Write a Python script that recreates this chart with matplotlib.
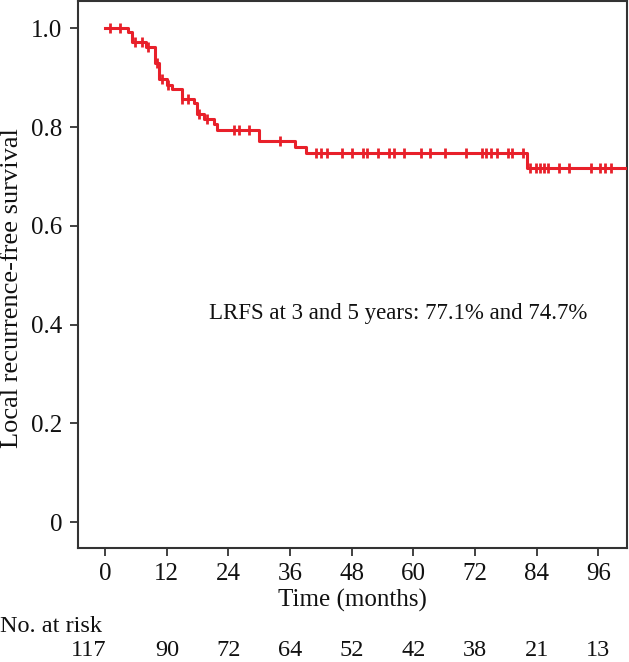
import numpy as np
import matplotlib
matplotlib.use("Agg")
import matplotlib.pyplot as plt
import matplotlib.transforms as mtransforms

# ---- data ----
event_times = [4.5, 5.2, 8.0, 9.7, 10.5, 12.0, 13.0, 14.9, 17.2, 17.9, 19.2,
               21.1, 21.8, 29.9, 37.0, 39.0, 82.2]
survival = [0.992, 0.972, 0.962, 0.929, 0.898, 0.885, 0.876, 0.857, 0.848,
            0.827, 0.817, 0.807, 0.794, 0.771, 0.759, 0.747, 0.717]
censor_times = [1, 2.9, 5.8, 7.1, 8.4, 10.1, 11, 12.3, 14.9, 16.2, 18.2, 19.8,
                25, 26, 27.9, 34.1, 41.1, 42.1, 43.1, 46.1, 48.1, 50.2, 51,
                53.1, 55.2, 56.2, 58.1, 61.4, 63.2, 66.2, 70.3, 73.3, 74.2,
                75.1, 76.2, 78.4, 79.3, 81.4, 82.8, 83.8, 84.6, 85.4, 86.2,
                88.3, 90.4, 94.5, 96.4, 97.4, 98.4]
risk_times = [0, 12, 24, 36, 48, 60, 72, 84, 96]
at_risk = [117, 90, 72, 64, 52, 42, 38, 21, 13]
y_ticks = [0, 0.2, 0.4, 0.6, 0.8, 1.0]
y_ticklabels = ["0", "0.2", "0.4", "0.6", "0.8", "1.0"]
annotation = "LRFS at 3 and 5 years: 77.1% and 74.7%"

x_min, x_max = -5.3, 101.6
y_min, y_max = -0.052, 1.055

plt.rcParams['font.family'] = ['Liberation Serif', 'DejaVu Serif']
color = '#E8202A'
txt = '#111111'

W, H = 629, 662
fig = plt.figure(figsize=(W / 100, H / 100), dpi=100)
ax_l, ax_r, ax_t, ax_b = 78, 627, 1, 548
ax = fig.add_axes([ax_l / W, 1 - ax_b / H, (ax_r - ax_l) / W, (ax_b - ax_t) / H])

t_all = np.array([0.0] + event_times + [x_max])
s_all = np.array([1.0] + survival + [survival[-1]])
ax.step(t_all, s_all, where='post', color=color, lw=2.2, zorder=3)

ct = np.array(censor_times)
idx = np.searchsorted(t_all, ct, side='right') - 1
cs = s_all[idx]
ax.plot(ct, cs, linestyle='none', marker='|', markersize=6.5,
        markeredgewidth=2.0, color=color, zorder=4)

ax.set_xlim(x_min, x_max)
ax.set_ylim(y_min, y_max)
ax.set_xticks(risk_times)
ax.set_xticklabels([str(t) for t in risk_times])
ax.set_yticks(y_ticks)
ax.set_yticklabels(y_ticklabels)
ax.tick_params(axis='both', direction='out', length=6, width=1.3,
               color='#333333', labelcolor=txt)
ax.tick_params(axis='x', labelsize=18, pad=4.5)
ax.tick_params(axis='y', labelsize=18, pad=5.5)
for sp in ax.spines.values():
    sp.set_linewidth(1.5)
    sp.set_color('#333333')

ax_w = ax_r - ax_l
ax_h = ax_b - ax_t

xl = ax.set_xlabel("Time (months)", fontsize=18, color=txt)
ax.xaxis.set_label_coords(0.5, (ax_b - 600) / ax_h)
xl.set_va('center')

yl = ax.set_ylabel("Local recurrence-free survival", fontsize=19, color=txt)
ax.yaxis.set_label_coords((12 - ax_l) / ax_w, (ax_b - 288) / ax_h)
yl.set_va('center')
yl.set_ha('center')

ax.text((398 - ax_l) / ax_w, (ax_b - 314) / ax_h, annotation,
        transform=ax.transAxes, fontsize=16.5, ha='center', va='center',
        color=txt)

# at-risk table
fig.text(0 / W, 1 - 627 / H, "No. at risk", fontsize=17.5, ha='left',
         va='center', color=txt)
blend = mtransforms.blended_transform_factory(ax.transData, fig.transFigure)
for i, (t, n) in enumerate(zip(risk_times, at_risk)):
    tr = blend
    if i == 0:
        tr = blend + mtransforms.ScaledTranslation(-0.17, 0, fig.dpi_scale_trans)
    ax.text(t, 1 - 651 / H, str(n), transform=tr, fontsize=17.5,
            ha='center', va='center', color=txt, clip_on=False)

fig.savefig("out.png", dpi=100)
